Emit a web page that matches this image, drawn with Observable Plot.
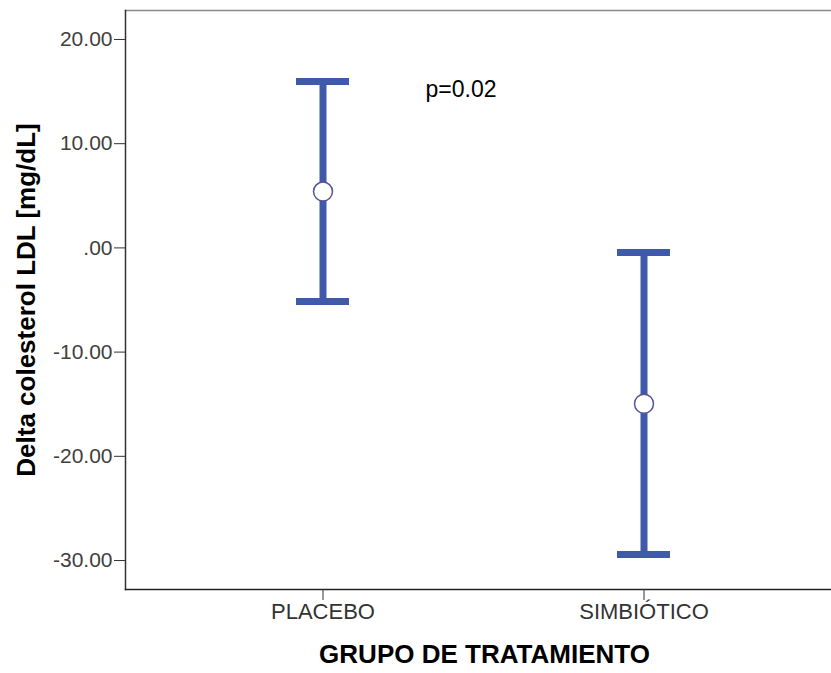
<!DOCTYPE html>
<html>
<head>
<meta charset="utf-8">
<script src="https://cdn.jsdelivr.net/npm/d3@7"></script>
<script src="https://cdn.jsdelivr.net/npm/@observablehq/plot@0.6"></script>
<style>
  html, body { margin: 0; padding: 0; background: #fff; }
  #chart svg { display: block; }
</style>
</head>
<body>
<div id="chart"></div>
<script>
const groups = ["PLACEBO", "SIMBIÓTICO"];
const means = [5.4, -14.95];
const lower = [-5.15, -29.42];
const upper = [15.96, -0.45];
const yTicks = [-30, -20, -10, 0, 10, 20];
const xTitle = "GRUPO DE TRATAMIENTO";
const yTitle = "Delta colesterol LDL [mg/dL]";
const annotation = "p=0.02";

const data = groups.map((g, i) => ({group: g, mean: means[i], lo: lower[i], hi: upper[i]}));
const barColor = "#3f5aa9";
const fmt = v => {
  let s = Math.abs(v).toFixed(2).replace(/^0\./, ".");
  return (v < 0 ? "-" : "") + s;
};

const chart = Plot.plot({
  width: 831,
  height: 673,
  marginLeft: 125,
  marginRight: 0,
  marginTop: 10,
  marginBottom: 84,
  style: {fontFamily: "'Liberation Sans', Arial, sans-serif", fontSize: "21px", color: "#333", background: "#fff"},
  x: {type: "band", domain: groups, paddingInner: 0.835, paddingOuter: 0.514, align: 0.515, label: null},
  y: {domain: [-32.78, 22.78], label: null},
  marks: [
    Plot.frame({anchor: "top", stroke: "#8a8a8a", strokeWidth: 1.5}),
    Plot.frame({anchor: "left", stroke: "#333", strokeWidth: 1.5}),
    Plot.frame({anchor: "bottom", stroke: "#222", strokeWidth: 1.5}),
    Plot.axisY({ticks: yTicks, tickFormat: fmt, tickSize: 11, tickPadding: 2, fontSize: 21, label: null, fill: "#404040"}),
    Plot.axisX({tickSize: 11, tickPadding: 3, fontSize: 22, label: null, fill: "#333"}),
    Plot.ruleX(data, {x: "group", y1: "lo", y2: "hi", stroke: barColor, strokeWidth: 7}),
    Plot.tickY(data, {x: "group", y: "hi", stroke: barColor, strokeWidth: 7}),
    Plot.tickY(data, {x: "group", y: "lo", stroke: barColor, strokeWidth: 7}),
    Plot.dot(data, {x: "group", y: "mean", r: 9.5, fill: "white", stroke: "#55559a", strokeWidth: 1.5}),
    Plot.text([annotation], {frameAnchor: "top-left", dx: 300, dy: 79, textAnchor: "start", lineAnchor: "middle", fontSize: 23, fill: "#000"}),
    Plot.text([xTitle], {frameAnchor: "bottom", dx: 6, dy: 65, textAnchor: "middle", lineAnchor: "middle", fontSize: 26, fontWeight: "bold", fill: "#000"}),
    Plot.text([yTitle], {frameAnchor: "left", dx: -99, rotate: -90, textAnchor: "middle", lineAnchor: "middle", fontSize: 26, fontWeight: "bold", fill: "#000"})
  ]
});
document.getElementById("chart").appendChild(chart);
</script>
</body>
</html>
